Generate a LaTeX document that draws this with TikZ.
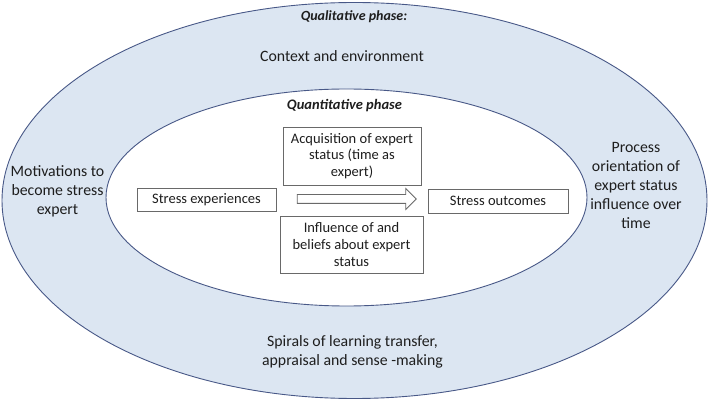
\documentclass[tikz,border=0pt]{standalone}
\usepackage{fontspec}
\setmainfont{Carlito}
\usetikzlibrary{shapes.arrows}
\definecolor{ringfill}{RGB}{220,230,242}
\definecolor{ringline}{RGB}{72,88,135}
\definecolor{boxline}{RGB}{105,105,105}
\definecolor{txt}{RGB}{30,30,30}
\tikzset{
  ring/.style={draw=ringline, line width=0.9pt},
  stagebox/.style={draw=boxline, fill=white, line width=0.8pt, align=center, inner sep=2pt,
    text=txt, font=\fontsize{14.5}{16.8}\selectfont},
  ringlabel/.style={align=center, text=txt, font=\fontsize{15.8}{19}\selectfont, inner sep=0pt},
  phaselabel/.style={text=txt, inner sep=0pt},
}
\begin{document}
\begin{tikzpicture}[x=1pt,y=-1pt]
\useasboundingbox (0,0) rectangle (709,403);
\draw[ring, fill=ringfill] (354.5,200.5) ellipse [x radius=352.5pt, y radius=198pt];
\draw[ring, fill=white] (346.5,197.5) ellipse [x radius=240.5pt, y radius=108.5pt];

\node[phaselabel, font=\fontsize{14}{16}\selectfont\bfseries\itshape] (qual) at (354,17) {Qualitative phase:};
\node[ringlabel] (ctx) at (342,56) {Context and environment};
\node[phaselabel, font=\fontsize{14.5}{16}\selectfont\bfseries\itshape] (quant) at (344.5,106) {Quantitative phase};

\node[ringlabel] (motiv) at (57.5,191) {Motivations to\\become stress\\expert};
\node[ringlabel] (proc) at (636,185) {Process\\orientation of\\expert status\\influence over\\time};
\node[ringlabel] (spiral) at (352.5,351.5) {Spirals of learning transfer,\\appraisal and sense -making};

\node[stagebox, minimum width=139pt, minimum height=23pt] (exp) at (206.5,199.5) {Stress experiences};
\node[stagebox, minimum width=140pt, minimum height=24pt] (out) at (498,201) {Stress outcomes};
\node[stagebox, minimum width=138pt, minimum height=58pt] (acq) at (352,156) {Acquisition of expert\\status (time as\\expert)};
\node[stagebox, minimum width=143pt, minimum height=57pt] (infl) at (351.5,244.5) {Influence of and\\beliefs about expert\\status};

\node[single arrow, draw=boxline, fill=white, line width=0.8pt, minimum height=119pt,
  minimum width=20pt, single arrow head extend=6pt, inner sep=4pt] (arr) at (354.5,199) {};
\end{tikzpicture}
\end{document}
